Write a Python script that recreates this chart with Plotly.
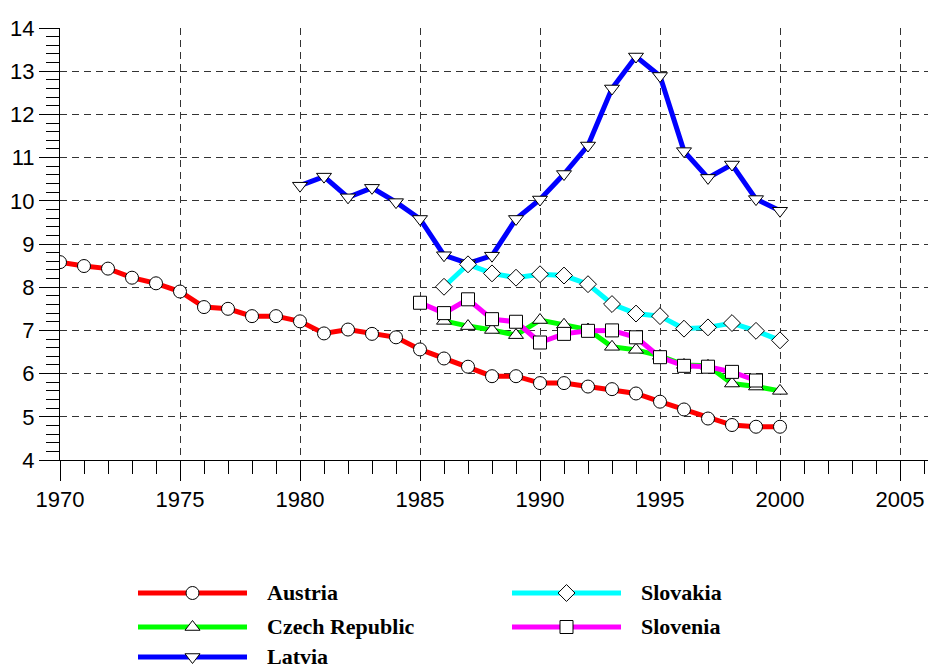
import plotly.graph_objects as go

# Annual values, 1970-2000
years_austria = list(range(1970, 2001))
austria = [8.58, 8.49, 8.43, 8.22, 8.09, 7.90, 7.54, 7.50, 7.33, 7.33,
           7.21, 6.93, 7.02, 6.92, 6.84, 6.56, 6.35, 6.16, 5.94, 5.94,
           5.78, 5.78, 5.70, 5.64, 5.54, 5.35, 5.17, 4.96, 4.81, 4.77, 4.77]

years_czech = list(range(1986, 2001))
czech = [7.22, 7.10, 7.01, 6.89, 7.24, 7.13, 7.02, 6.62, 6.55, 6.41,
         6.20, 6.18, 5.77, 5.70, 5.60]

years_latvia = list(range(1980, 2001))
latvia = [10.35, 10.56, 10.08, 10.30, 9.97, 9.58, 8.74, 8.55, 8.73, 9.58,
          10.03, 10.62, 11.28, 12.60, 13.34, 12.89, 11.15, 10.53, 10.84, 10.04, 9.77]

years_slovakia = list(range(1986, 2001))
slovakia = [8.01, 8.53, 8.32, 8.22, 8.30, 8.27, 8.07, 7.61, 7.39, 7.33,
            7.04, 7.07, 7.17, 6.99, 6.77]

years_slovenia = list(range(1985, 2000))
slovenia = [7.64, 7.40, 7.72, 7.26, 7.20, 6.72, 6.92, 6.99, 7.00, 6.84,
            6.38, 6.18, 6.16, 6.04, 5.84]

series = [
    ("Austria", years_austria, austria, "#FF0000", "circle"),
    ("Czech Republic", years_czech, czech, "#00FF00", "triangle-up"),
    ("Latvia", years_latvia, latvia, "#0000FF", "triangle-down"),
    ("Slovakia", years_slovakia, slovakia, "#00FFFF", "diamond"),
    ("Slovenia", years_slovenia, slovenia, "#FF00FF", "square"),
]

W, H = 928, 668
left, top, bottom = 60, 28, 460

fig = go.Figure()

for name, xs, ys, color, symbol in series:
    fig.add_trace(go.Scatter(
        x=xs, y=ys, name=name, mode="lines+markers",
        line=dict(color=color, width=5),
        marker=dict(symbol=symbol, size=13, color="white",
                    line=dict(color="black", width=1)),
        showlegend=False, xaxis="x", yaxis="y",
    ))

# Legend drawn as its own panel below the chart (pixel-unit axes)
legend_slots = [
    (138, 247, 593), (138, 247, 627), (138, 247, 657),
    (512, 621, 593), (512, 621, 627),
]
for (name, xs, ys, color, symbol), (x0, x1, yr) in zip(series, legend_slots):
    fig.add_trace(go.Scatter(
        x=[x0, x1], y=[yr, yr], mode="lines",
        line=dict(color=color, width=5), showlegend=False,
        xaxis="x2", yaxis="y2", hoverinfo="skip",
    ))
    fig.add_trace(go.Scatter(
        x=[(x0 + x1) / 2], y=[yr], mode="markers",
        marker=dict(symbol=symbol, size=13, color="white",
                    line=dict(color="black", width=1)),
        showlegend=False, xaxis="x2", yaxis="y2", hoverinfo="skip",
    ))
    fig.add_annotation(
        x=x1 + 18, y=yr - 1, xref="x2", yref="y2", text=f"<b>{name}</b>",
        showarrow=False, xanchor="left", yanchor="middle",
        font=dict(family="Liberation Serif, Times New Roman, serif",
                  size=22, color="black"),
    )

tick_font = dict(family="Liberation Sans, Arial, sans-serif", size=22, color="black")
grid_dash = "7px,5px"

fig.update_layout(
    width=W, height=H,
    margin=dict(l=0, r=0, t=0, b=0),
    paper_bgcolor="white",
    plot_bgcolor="rgba(0,0,0,0)",
    xaxis=dict(
        domain=[left / W, 1], range=[1970, 1970 + (W - left) / 24],
        tickmode="linear", tick0=1970, dtick=5,
        ticks="outside", ticklen=20, tickcolor="black", tickwidth=1,
        minor=dict(dtick=1, tick0=1970, ticks="outside", ticklen=13,
                   tickcolor="black", tickwidth=1, showgrid=False),
        showline=True, linecolor="black", linewidth=1,
        showgrid=True, gridcolor="#333333", gridwidth=1, griddash=grid_dash,
        zeroline=False, tickfont=tick_font, automargin=False,
        anchor="y",
    ),
    yaxis=dict(
        domain=[(H - bottom) / H, 1 - top / H], range=[4, 14],
        tickmode="linear", tick0=4, dtick=1,
        ticks="outside", ticklen=20, tickcolor="black", tickwidth=1,
        minor=dict(dtick=0.2, tick0=4, ticks="outside", ticklen=13,
                   tickcolor="black", tickwidth=1, showgrid=False),
        showline=True, linecolor="black", linewidth=1,
        showgrid=True, gridcolor="#333333", gridwidth=1, griddash=grid_dash,
        zeroline=False, tickfont=tick_font, automargin=False,
        anchor="x",
    ),
    xaxis2=dict(domain=[0, 1], range=[0, W], visible=False, anchor="y2",
                fixedrange=True),
    yaxis2=dict(domain=[0, 100 / H], range=[H, H - 100], visible=False,
                anchor="x2", fixedrange=True),
)

fig.write_html("out.html")
